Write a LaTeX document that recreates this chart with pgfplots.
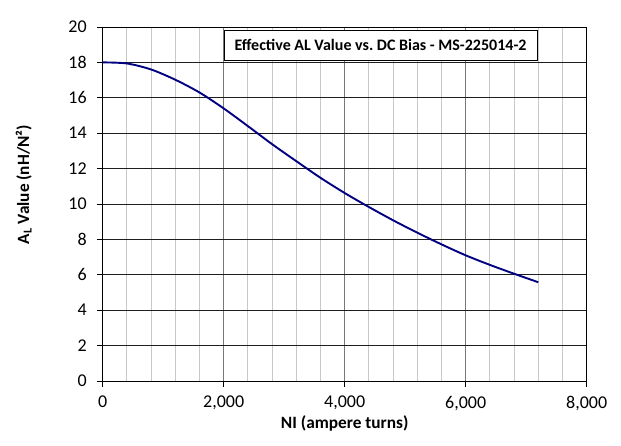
\documentclass[border=0pt]{standalone}
\usepackage{fontspec}
\setmainfont{Carlito}
\usepackage{pgfplots}
\pgfplotsset{compat=1.18}
\definecolor{curve}{RGB}{0,0,128}
\definecolor{majgrid}{RGB}{120,120,120}
\definecolor{mingrid}{RGB}{200,200,200}
\definecolor{ygrid}{RGB}{30,30,30}
\pgfplotstableread{
x y
0 18.00
400 17.94
800 17.60
1200 17.02
1600 16.30
2000 15.40
2400 14.40
2800 13.38
3200 12.42
3600 11.48
4000 10.62
4400 9.83
4800 9.08
5200 8.38
5600 7.72
6000 7.10
6400 6.56
6800 6.06
7200 5.58
}\curvedata
\begin{document}
\frenchspacing
\begin{tikzpicture}[x=1pt,y=1pt]
\path[use as bounding box] (-102.7,-64) rectangle (518.3,381);
\begin{axis}[
  scale only axis, width=484pt, height=354pt,
  at={(0,0)}, anchor=south west,
  xmin=0, xmax=8000, ymin=0, ymax=20,
  xtick={0,2000,4000,6000,8000},
  ytick={0,2,...,20},
  minor x tick num=4,
  xmajorgrids, xminorgrids, ymajorgrids,
  major x grid style={majgrid, line width=0.9pt},
  minor x grid style={mingrid, line width=0.9pt},
  major y grid style={ygrid, line width=0.8pt},
  tick align=outside, major tick length=5.5pt, minor tick length=0pt,
  xtick pos=bottom, ytick pos=left,
  tick style={black, line width=0.8pt},
  axis line style={black, line width=0.9pt},
  scaled x ticks=false,
  /pgf/number format/assume math mode=true,
  xticklabel style={/pgf/number format/1000 sep={,}},
  tick label style={font=\fontsize{18}{18}\selectfont},
  yticklabel style={xshift=-7pt},
  xticklabel style={yshift=-6pt},
  xlabel={NI (ampere turns)},
  ylabel={A\textsubscript{L} Value (nH/N²)},
  xlabel style={font=\fontsize{17.3}{17.3}\selectfont\bfseries, at={(rel axis cs:0.5,0)}, anchor=center, yshift=-42pt},
  ylabel style={font=\fontsize{17.2}{17.2}\selectfont\bfseries, at={(rel axis cs:0,0.555)}, anchor=center, xshift=0pt, yshift=79pt},
  clip=false,
]
\addplot[curve, line width=1.9pt, smooth, tension=0.5] table[x=x,y=y] {\curvedata};
\node[draw=black, line width=0.8pt, fill=white, minimum width=313pt, minimum height=30pt, anchor=north, inner sep=0pt,
  font=\fontsize{16}{16}\selectfont\bfseries] at (rel axis cs:0.574,0.9915) {Effective AL Value vs.\ DC Bias - MS-225014-2};
\end{axis}
\end{tikzpicture}
\end{document}
